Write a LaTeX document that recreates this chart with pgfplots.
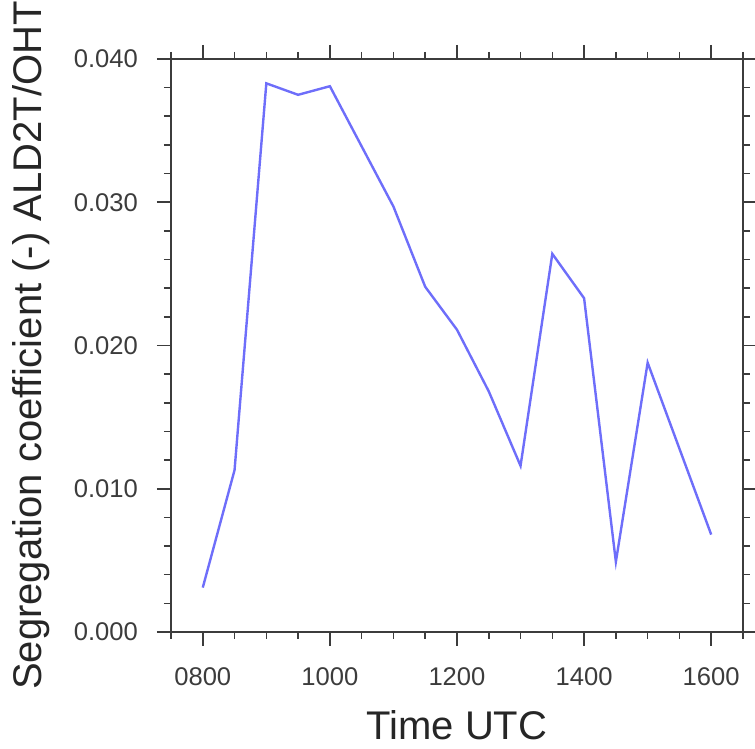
\documentclass[border=0pt]{standalone}
\usepackage{fontspec}
\setmainfont{Liberation Sans}
\usepackage{pgfplots}
\pgfplotsset{compat=1.18}
\definecolor{segline}{RGB}{110,110,250}
\definecolor{axgray}{RGB}{60,60,60}
\begin{document}
\begin{tikzpicture}
\useasboundingbox (-85.5pt,-58.5pt) rectangle (292pt,316pt);
\begin{axis}[
  at={(0,0)}, anchor=south west,
  width=286pt, height=286.5pt, scale only axis,
  xmin=750, xmax=1650, ymin=0, ymax=0.04,
  xtick={800,1000,1200,1400,1600},
  xticklabels={0800,1000,1200,1400,1600},
  minor xtick={750,850,900,950,1050,1100,1150,1250,1300,1350,1450,1500,1550,1650},
  ytick={0,0.01,0.02,0.03,0.04},
  yticklabels={0.000,0.010,0.020,0.030,0.040},
  minor ytick={0.002,0.004,0.006,0.008,0.012,0.014,0.016,0.018,0.022,0.024,0.026,0.028,0.032,0.034,0.036,0.038},
  scaled y ticks=false,
  tick align=outside,
  major tick length=7pt, minor tick length=3.5pt,
  axis line style={axgray, line width=1pt},
  every tick/.style={axgray, line width=0.8pt},
  tick label style={font=\fontsize{12.8}{14}\selectfont, text=axgray},
  xticklabel style={yshift=-7.5pt},
  yticklabel style={xshift=-6pt},
  label style={font=\fontsize{20}{24}\selectfont, text=black!85},
  xlabel={Time UTC},
  ylabel={Segregation coefficient (-) ALD2T/OHT},
  xlabel style={at={(axis description cs:0.5,0)}, anchor=north, inner sep=0pt, yshift=-39pt},
  ylabel style={at={(axis description cs:-0.2445,0.5)}, anchor=center},
]
\addplot[segline, line width=1.2pt] coordinates {
  (800,0.0031) (850,0.0113) (900,0.0383) (950,0.0375) (1000,0.0381)
  (1050,0.0339) (1100,0.0297) (1150,0.0241) (1200,0.0211) (1250,0.0168)
  (1300,0.0116) (1350,0.0264) (1400,0.0233) (1450,0.0049) (1500,0.0188)
  (1550,0.0128) (1600,0.0068)
};
\end{axis}
\end{tikzpicture}
\end{document}
